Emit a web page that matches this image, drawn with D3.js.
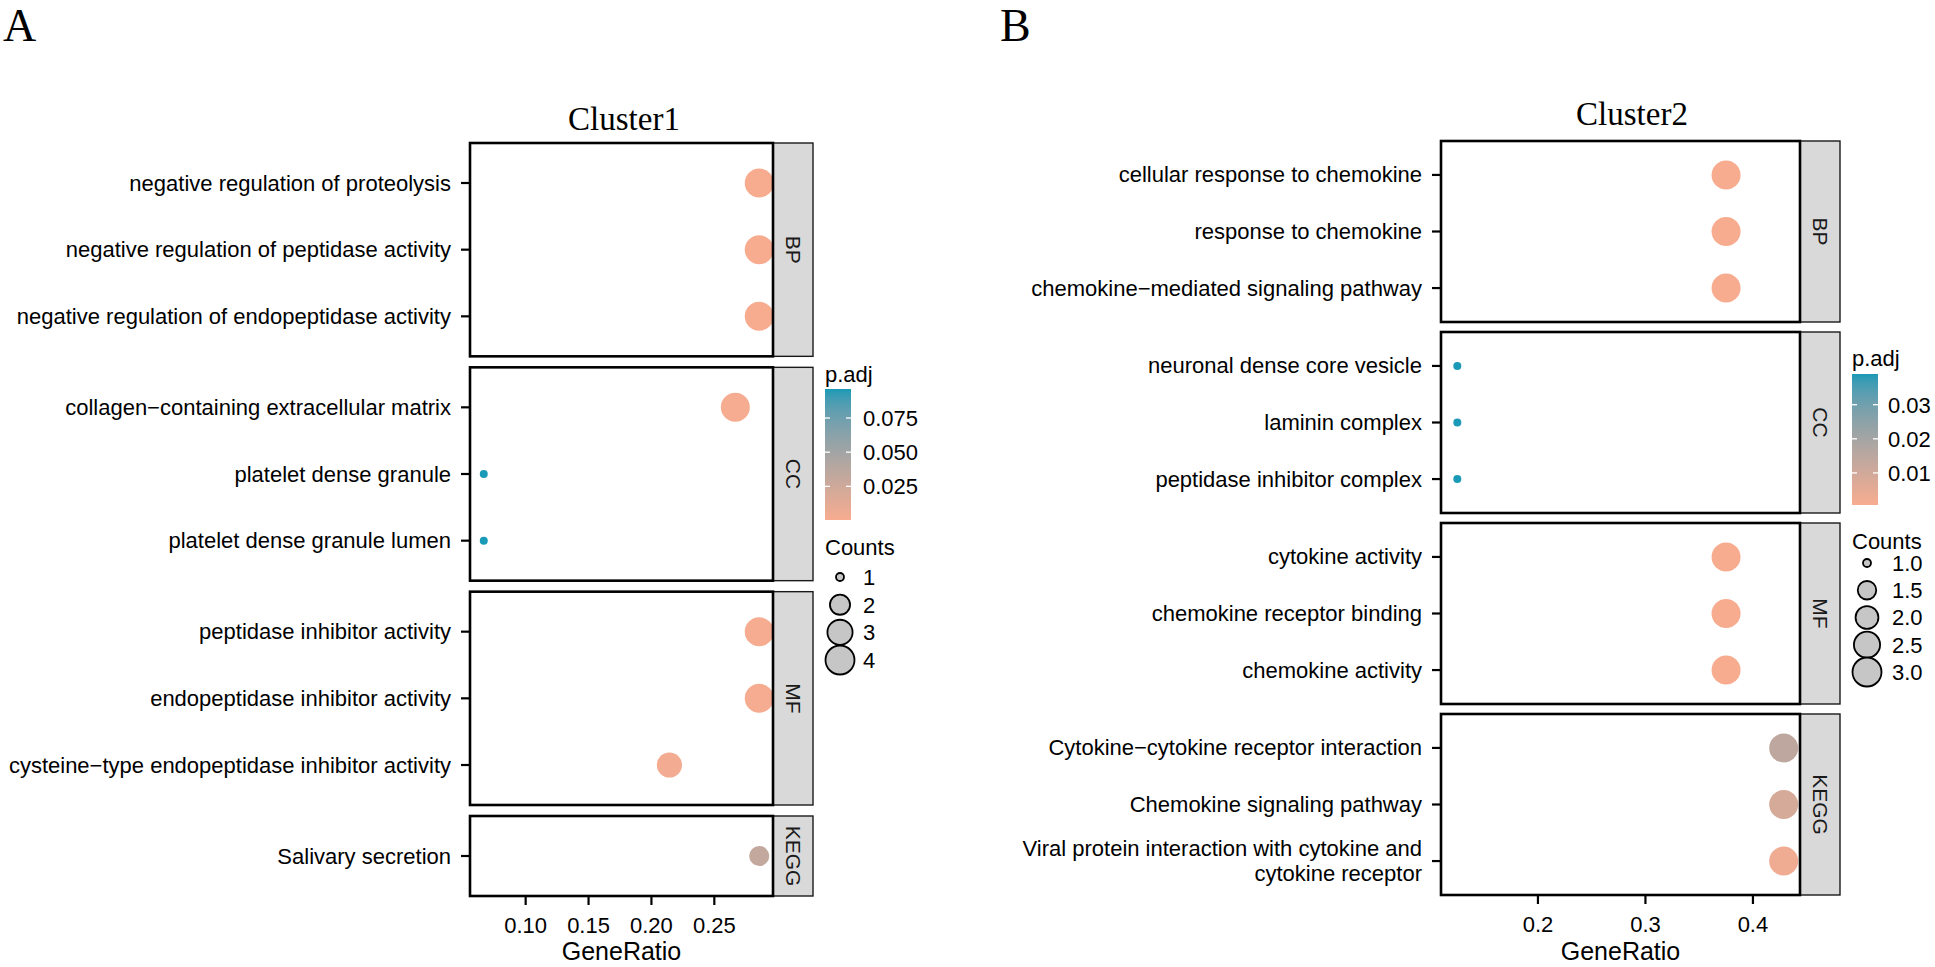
<!DOCTYPE html>
<html>
<head>
<meta charset="utf-8">
<script src="https://cdn.jsdelivr.net/npm/d3@7"></script>
<style>
  html, body { margin: 0; padding: 0; background: #ffffff; }
  svg { display: block; }
</style>
</head>
<body>
<svg id="chart" width="1935" height="967"></svg>
<script>
// ---------------- DATA ----------------
const facetOrder = ["BP", "CC", "MF", "KEGG"];

const A_terms = [
  "negative regulation of proteolysis",
  "negative regulation of peptidase activity",
  "negative regulation of endopeptidase activity",
  "collagen\u2212containing extracellular matrix",
  "platelet dense granule",
  "platelet dense granule lumen",
  "peptidase inhibitor activity",
  "endopeptidase inhibitor activity",
  "cysteine\u2212type endopeptidase inhibitor activity",
  "Salivary secretion"
];
const A_groups    = ["BP", "BP", "BP", "CC", "CC", "CC", "MF", "MF", "MF", "KEGG"];
const A_geneRatio = [0.2857, 0.2857, 0.2857, 0.2667, 0.0667, 0.0667, 0.2857, 0.2857, 0.2143, 0.2857];
const A_counts    = [4, 4, 4, 4, 1, 1, 4, 4, 3, 2];
const A_padj      = [0.0004, 0.0004, 0.0004, 0.0012, 0.0962, 0.0962, 0.0012, 0.0012, 0.0031, 0.032];
const A_xTicks    = [0.10, 0.15, 0.20, 0.25];
const A_padjTicks = [0.025, 0.050, 0.075];
const A_countBreaks = [1, 2, 3, 4];

const B_terms = [
  "cellular response to chemokine",
  "response to chemokine",
  "chemokine\u2212mediated signaling pathway",
  "neuronal dense core vesicle",
  "laminin complex",
  "peptidase inhibitor complex",
  "cytokine activity",
  "chemokine receptor binding",
  "chemokine activity",
  "Cytokine\u2212cytokine receptor interaction",
  "Chemokine signaling pathway",
  "Viral protein interaction with cytokine and\ncytokine receptor"
];
const B_groups    = ["BP", "BP", "BP", "CC", "CC", "CC", "MF", "MF", "MF", "KEGG", "KEGG", "KEGG"];
const B_geneRatio = [0.375, 0.375, 0.375, 0.125, 0.125, 0.125, 0.375, 0.375, 0.375, 0.4286, 0.4286, 0.4286];
const B_counts    = [3, 3, 3, 1, 1, 1, 3, 3, 3, 3, 3, 3];
const B_padj      = [0.0006, 0.0006, 0.0006, 0.039, 0.039, 0.039, 0.0006, 0.0006, 0.0006, 0.0144, 0.009, 0.0025];
const B_xTicks    = [0.2, 0.3, 0.4];
const B_padjTicks = [0.01, 0.02, 0.03];
const B_countBreaks = [1.0, 1.5, 2.0, 2.5, 3.0];

// ---------------- STYLE ----------------
const LOW_COL = "#F7AC90";
const HIGH_COL = "#1A9AB6";
const SANS = "'Liberation Sans', Arial, Helvetica, sans-serif";
const SERIF = "'Liberation Serif', 'Times New Roman', serif";

const svg = d3.select("#chart");
const defs = svg.append("defs");

function drawChart(cfg) {
  const rows = cfg.terms.map((t, i) => ({
    term: t, group: cfg.groups[i], ratio: cfg.ratio[i], count: cfg.counts[i], padj: cfg.padj[i], key: cfg.id + i
  }));

  // x scale with ggplot-like 5% expansion
  const ext = d3.extent(rows, d => d.ratio);
  const pad = (ext[1] - ext[0]) * 0.05;
  const x = d3.scaleLinear().domain([ext[0] - pad, ext[1] + pad]).range([cfg.left, cfg.right]);

  // colour scale
  const pExt = d3.extent(rows, d => d.padj);
  const color = d3.scaleLinear().domain(pExt).range([LOW_COL, HIGH_COL]).interpolate(d3.interpolateLab);

  // size scale (area-proportional like ggplot scale_size)
  const cExt = d3.extent(rows, d => d.count);
  const rLin = d3.scaleLinear().domain([0, 1]).range([4, 14.5]);
  const radius = v => rLin(Math.sqrt((v - cExt[0]) / (cExt[1] - cExt[0])));

  // facet heights (free space): n - 1 + 2*0.6 units each
  const facets = facetOrder.map(g => ({ g, items: rows.filter(r => r.group === g) }));
  const units = facets.map(f => f.items.length - 1 + 1.2);
  const totalUnits = d3.sum(units);
  const avail = (cfg.bottom - cfg.top) - cfg.gap * (facets.length - 1);
  const unit = avail / totalUnits;
  let yCur = cfg.top;
  facets.forEach((f, i) => {
    f.y0 = yCur;
    f.h = units[i] * unit;
    f.y1 = yCur + f.h;
    yCur = f.y1 + cfg.gap;
    f.y = d3.scalePoint().domain(f.items.map(d => d.key)).range([f.y0, f.y1]).padding(0.6);
  });

  const g = svg.append("g");

  // panel letter & title
  g.append("text").attr("x", cfg.letterX).attr("y", cfg.letterY)
    .attr("font-family", SERIF).attr("font-size", 46).attr("fill", "#000").text(cfg.letter);
  g.append("text").attr("x", cfg.titleX).attr("y", cfg.titleY).attr("text-anchor", "middle")
    .attr("font-family", SERIF).attr("font-size", 33).attr("fill", "#000").text(cfg.title);

  facets.forEach(f => {
    const fg = g.append("g");
    // strip
    fg.append("rect").attr("x", cfg.right).attr("y", f.y0).attr("width", cfg.stripW).attr("height", f.h)
      .attr("fill", "#D9D9D9").attr("stroke", "#1a1a1a").attr("stroke-width", 1.4);
    fg.append("text")
      .attr("transform", `translate(${cfg.right + cfg.stripW / 2},${(f.y0 + f.y1) / 2}) rotate(90)`)
      .attr("text-anchor", "middle").attr("dominant-baseline", "central")
      .attr("font-family", SANS).attr("font-size", 21).attr("fill", "#1a1a1a").text(f.g);
    // panel background
    fg.append("rect").attr("x", cfg.left).attr("y", f.y0).attr("width", cfg.right - cfg.left).attr("height", f.h)
      .attr("fill", "#fff");
    // points
    fg.selectAll("circle.pt").data(f.items).join("circle").attr("class", "pt")
      .attr("cx", d => x(d.ratio)).attr("cy", d => f.y(d.key))
      .attr("r", d => radius(d.count)).attr("fill", d => color(d.padj));
    // panel border
    fg.append("rect").attr("x", cfg.left).attr("y", f.y0).attr("width", cfg.right - cfg.left).attr("height", f.h)
      .attr("fill", "none").attr("stroke", "#000").attr("stroke-width", 2.6);
    // y ticks
    fg.selectAll("line.yt").data(f.items).join("line").attr("class", "yt")
      .attr("x1", cfg.left - 9).attr("x2", cfg.left).attr("y1", d => f.y(d.key)).attr("y2", d => f.y(d.key))
      .attr("stroke", "#000").attr("stroke-width", 2.2);
    // y labels
    fg.selectAll("text.yl").data(f.items).join("text").attr("class", "yl")
      .attr("x", cfg.left - 19).attr("y", d => f.y(d.key))
      .attr("text-anchor", "end").attr("font-family", SANS).attr("font-size", 22).attr("fill", "#000")
      .each(function (d) {
        const lines = d.term.split("\n");
        const lh = 25;
        const sel = d3.select(this);
        lines.forEach((ln, j) => {
          sel.append("tspan").attr("x", cfg.left - 19)
            .attr("dy", j === 0 ? (-(lines.length - 1) * lh / 2) + 7.5 : lh)
            .text(ln);
        });
      });
  });

  // x axis
  const axG = g.append("g");
  axG.selectAll("line.xt").data(cfg.xTicks).join("line").attr("class", "xt")
    .attr("x1", d => x(d)).attr("x2", d => x(d)).attr("y1", cfg.bottom).attr("y2", cfg.bottom + 9)
    .attr("stroke", "#000").attr("stroke-width", 2.2);
  axG.selectAll("text.xl").data(cfg.xTicks).join("text").attr("class", "xl")
    .attr("x", d => x(d)).attr("y", cfg.bottom + 37).attr("text-anchor", "middle")
    .attr("font-family", SANS).attr("font-size", 22).attr("fill", "#000")
    .text(d => cfg.xFmt(d));
  axG.append("text").attr("x", (cfg.left + cfg.right) / 2).attr("y", 960)
    .attr("text-anchor", "middle").attr("font-family", SANS).attr("font-size", 25).attr("fill", "#000")
    .text("GeneRatio");

  // colour legend
  const lg = g.append("g");
  lg.append("text").attr("x", cfg.legX).attr("y", cfg.padjTitleY)
    .attr("font-family", SANS).attr("font-size", 22).attr("fill", "#000").text("p.adj");
  const gradId = "grad" + cfg.id;
  const grad = defs.append("linearGradient").attr("id", gradId)
    .attr("x1", 0).attr("y1", 1).attr("x2", 0).attr("y2", 0);
  d3.range(0, 1.0001, 0.05).forEach(t => {
    grad.append("stop").attr("offset", t).attr("stop-color", color(pExt[0] + t * (pExt[1] - pExt[0])));
  });
  const barW = 26;
  const cy = d3.scaleLinear().domain(pExt).range([cfg.barBottom, cfg.barTop]);
  lg.append("rect").attr("x", cfg.legX).attr("y", cfg.barTop).attr("width", barW)
    .attr("height", cfg.barBottom - cfg.barTop).attr("fill", `url(#${gradId})`);
  cfg.padjTicks.forEach(t => {
    lg.append("line").attr("x1", cfg.legX).attr("x2", cfg.legX + 5).attr("y1", cy(t)).attr("y2", cy(t))
      .attr("stroke", "#fff").attr("stroke-width", 1.3);
    lg.append("line").attr("x1", cfg.legX + barW - 5).attr("x2", cfg.legX + barW).attr("y1", cy(t)).attr("y2", cy(t))
      .attr("stroke", "#fff").attr("stroke-width", 1.3);
  });
  lg.selectAll("text.pt").data(cfg.padjTicks).join("text").attr("class", "pt")
    .attr("x", cfg.legX + barW + cfg.padjLabDx).attr("y", d => cy(d)).attr("dy", "0.36em")
    .attr("font-family", SANS).attr("font-size", 22).attr("fill", "#000")
    .text(d => cfg.padjFmt(d));

  // size legend
  lg.append("text").attr("x", cfg.legX).attr("y", cfg.countTitleY)
    .attr("font-family", SANS).attr("font-size", 22).attr("fill", "#000").text("Counts");
  const ky = d3.scalePoint().domain(cfg.countBreaks).range([cfg.keyY0, cfg.keyY1]);
  lg.selectAll("circle.key").data(cfg.countBreaks).join("circle").attr("class", "key")
    .attr("cx", cfg.legX + cfg.keyDx).attr("cy", d => ky(d)).attr("r", d => radius(d))
    .attr("fill", "#C6C6C6").attr("stroke", "#000").attr("stroke-width", 1.8);
  lg.selectAll("text.kl").data(cfg.countBreaks).join("text").attr("class", "kl")
    .attr("x", cfg.keyLabX).attr("y", d => ky(d)).attr("dy", "0.36em")
    .attr("font-family", SANS).attr("font-size", 22).attr("fill", "#000")
    .text(d => cfg.countFmt(d));
}

drawChart({
  id: "A", letter: "A", letterX: 3, letterY: 41, title: "Cluster1", titleX: 624, titleY: 130,
  terms: A_terms, groups: A_groups, ratio: A_geneRatio, counts: A_counts, padj: A_padj,
  left: 470, right: 773, top: 143, bottom: 896, gap: 11, stripW: 40,
  xTicks: A_xTicks, xFmt: d3.format(".2f"),
  legX: 825, padjTitleY: 382, barTop: 389, barBottom: 520, padjTicks: A_padjTicks, padjFmt: d3.format(".3f"), padjLabDx: 12,
  countTitleY: 555, countBreaks: A_countBreaks, keyY0: 577, keyY1: 660, keyDx: 15, keyLabX: 863,
  countFmt: d3.format("d")
});

drawChart({
  id: "B", letter: "B", letterX: 1000, letterY: 41, title: "Cluster2", titleX: 1632, titleY: 125,
  terms: B_terms, groups: B_groups, ratio: B_geneRatio, counts: B_counts, padj: B_padj,
  left: 1441, right: 1800, top: 141, bottom: 895, gap: 10, stripW: 40,
  xTicks: B_xTicks, xFmt: d3.format(".1f"),
  legX: 1852, padjTitleY: 366, barTop: 374, barBottom: 505, padjTicks: B_padjTicks, padjFmt: d3.format(".2f"), padjLabDx: 10,
  countTitleY: 549, countBreaks: B_countBreaks, keyY0: 563, keyY1: 672, keyDx: 15, keyLabX: 1892,
  countFmt: d3.format(".1f")
});
</script>
</body>
</html>
